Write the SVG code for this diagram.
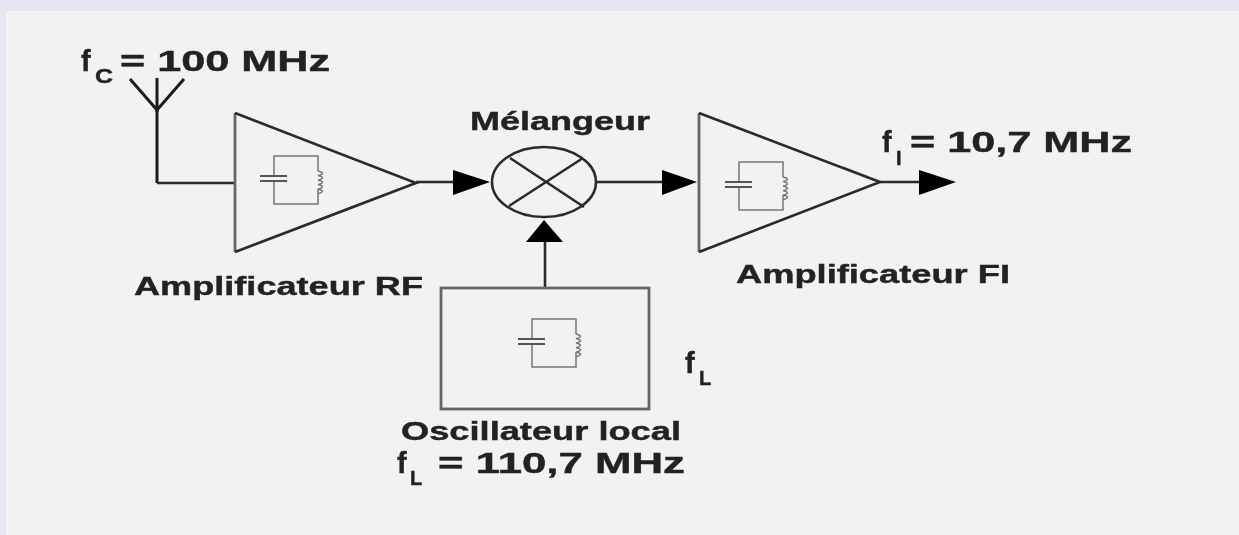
<svg xmlns="http://www.w3.org/2000/svg" width="1239" height="535" viewBox="0 0 1239 535">
<style>
.t{font-family:"Liberation Sans",Arial,sans-serif;font-weight:bold;fill:#222;stroke:#222;stroke-width:.4}
.l{font-size:25px}
.v{font-size:29px}
.s{font-size:20px}
.blk{fill:none;stroke:#2a2a2a;stroke-width:2.600}
.ant{fill:none;stroke:#1a1a1a;stroke-width:3}
.gry{fill:none;stroke:#666;stroke-width:2.800}
.lc{fill:none;stroke:#777;stroke-width:1.500}
.cap{fill:none;stroke:#555;stroke-width:2}
.ar{fill:#050505;stroke:none}
</style>
<defs>
<filter id="soft" x="-5%" y="-5%" width="110%" height="110%"><feGaussianBlur stdDeviation="0.55"/></filter>
<g id="tank">
<path class="lc" d="M14 20V0H58V15M58 33V48H14V26"/>
<path class="lc" d="M58 15q6 1.500 4 3t-4 1.500q6 1.500 4 3t-4 1.500q6 1.500 4 3t-4 1.500q6 1.500 4 3t-4 1.500q6 1.500 4 3t-4 1.500"/>
<path class="cap" d="M0 20H27M0 25H27"/>
</g>
</defs>
<rect width="1239" height="535" fill="#e6e6f2"/>
<rect x="6" y="11" width="1233" height="524" fill="#f2f2f2"/>
<g filter="url(#soft)">
<g id="connectors">
<path class="ant" d="M157 110V183"/>
<path class="blk" d="M157 183H235"/>
<path class="blk" d="M416 182H455"/>
<path class="ar" d="M453 170L490 182L453 195Z"/>
<path class="blk" d="M597 182H664"/>
<path class="ar" d="M662 170L697 182L662 195Z"/>
<path class="blk" d="M545 288V240"/>
<path class="ar" d="M526 242L544 220L563 242Z"/>
<path class="blk" d="M880 182H921"/>
<path class="ar" d="M919 170L956 182L919 195Z"/>
</g>
<g id="antenne">
<path class="ant" d="M157 78V112M130 79L157 110L184 79"/>
<text class="t v" x="81" y="71">f</text>
<text class="t s" x="95" y="83" textLength="18" lengthAdjust="spacingAndGlyphs">C</text>
<text class="t v" x="120" y="71" textLength="210" lengthAdjust="spacingAndGlyphs">= 100 MHz</text>
</g>
<g id="ampli-rf">
<path class="gry" d="M235 113V252"/>
<path class="blk" d="M235 113L416 183L235 252"/>
<use href="#tank" x="260" y="156"/>
<text class="t l" x="134" y="295" textLength="289" lengthAdjust="spacingAndGlyphs">Amplificateur RF</text>
</g>
<g id="melangeur">
<ellipse class="blk" cx="544" cy="182" rx="52" ry="35"/>
<path class="blk" d="M510 158L584 207M583 158L509 206"/>
<text class="t l" x="470" y="130" textLength="180" lengthAdjust="spacingAndGlyphs">Mélangeur</text>
</g>
<g id="ampli-fi">
<path class="gry" d="M699 113V252"/>
<path class="blk" d="M699 113L880 182L699 252"/>
<use href="#tank" x="725" y="162"/>
<text class="t l" x="736" y="283" textLength="274" lengthAdjust="spacingAndGlyphs">Amplificateur FI</text>
</g>
<g id="sortie">
<text class="t v" x="882" y="152">f</text>
<text class="t s" x="896" y="165">I</text>
<text class="t v" x="910" y="152" textLength="222" lengthAdjust="spacingAndGlyphs">= 10,7 MHz</text>
</g>
<g id="oscillateur">
<rect class="gry" x="441" y="288" width="208" height="121"/>
<use href="#tank" x="518" y="319"/>
<text class="t l" x="401" y="440" textLength="280" lengthAdjust="spacingAndGlyphs">Oscillateur local</text>
<text class="t v" x="397" y="473">f</text>
<text class="t s" x="410" y="485">L</text>
<text class="t v" x="438" y="473" textLength="247" lengthAdjust="spacingAndGlyphs">= 110,7 MHz</text>
<text class="t v" x="685" y="373">f</text>
<text class="t s" x="699" y="385">L</text>
</g>
</g>
</svg>
